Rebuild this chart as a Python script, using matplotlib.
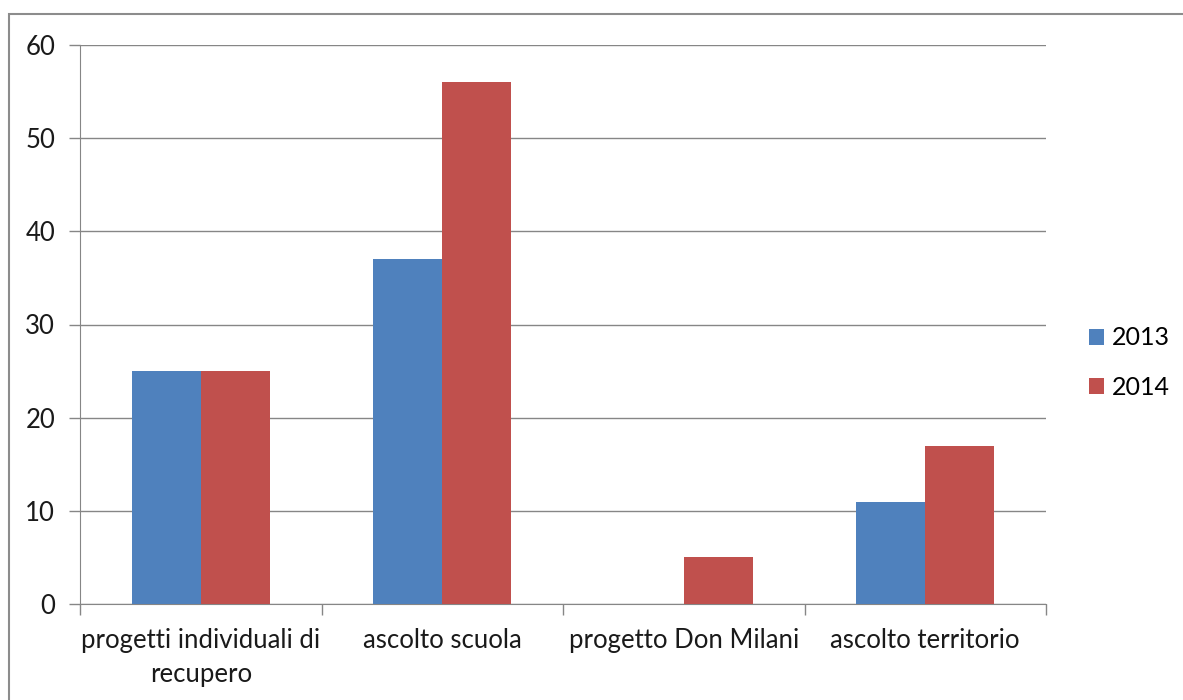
import matplotlib.pyplot as plt
from matplotlib.patches import Rectangle
import numpy as np

# Data
categories = ['progetti individuali di\nrecupero', 'ascolto scuola',
              'progetto Don Milani', 'ascolto territorio']
values_2013 = [25, 37, 0, 11]
values_2014 = [25, 56, 5, 17]
series_labels = ['2013', '2014']

BLUE = '#4F81BD'
RED = '#C0504D'
GRID = '#868686'

plt.rcParams['font.family'] = ['Lato', 'DejaVu Sans']

fig = plt.figure(figsize=(11.83, 7), dpi=100)
ax = fig.add_axes([80 / 1183, 96 / 700, 966 / 1183, 559 / 700])

x = np.arange(len(categories))
w = 0.285
ax.bar(x - w / 2, values_2013, w, color=BLUE, label=series_labels[0], zorder=3)
ax.bar(x + w / 2, values_2014, w, color=RED, label=series_labels[1], zorder=3)

ax.set_xlim(-0.5, len(categories) - 0.5)
ax.set_ylim(0, 60)
ax.set_yticks(range(0, 61, 10))
ax.yaxis.grid(True, color=GRID, linewidth=1, zorder=0)

# category labels centered, ticks at group boundaries
ax.set_xticks(x)
ax.set_xticklabels(categories, fontsize=18.5, color='#1a1a1a', linespacing=1.45)
ax.tick_params(axis='x', length=0, pad=17)
ax.set_xticks(np.arange(-0.5, len(categories), 1), minor=True)
ax.tick_params(axis='x', which='minor', length=8, color=GRID, width=1)
ax.tick_params(axis='y', length=8, color=GRID, width=1, labelsize=18.5,
               labelcolor='#1a1a1a', pad=10)

for side in ['top', 'right']:
    ax.spines[side].set_visible(False)
ax.spines['left'].set_color(GRID)
ax.spines['bottom'].set_color(GRID)

ax.legend(loc='center left', bbox_to_anchor=(1.045, 0.432), frameon=False,
          fontsize=18, handlelength=0.6, handleheight=0.6, labelspacing=1.05,
          handletextpad=0.3, borderpad=0, borderaxespad=0)

# outer chart border
fig.patches.append(Rectangle((9 / 1183, -0.05), 1.1, 0.05 + (1 - 14 / 700),
                             transform=fig.transFigure, fill=False,
                             edgecolor='#8c8c8c', linewidth=1.5))

fig.savefig('out.png', dpi=100)
